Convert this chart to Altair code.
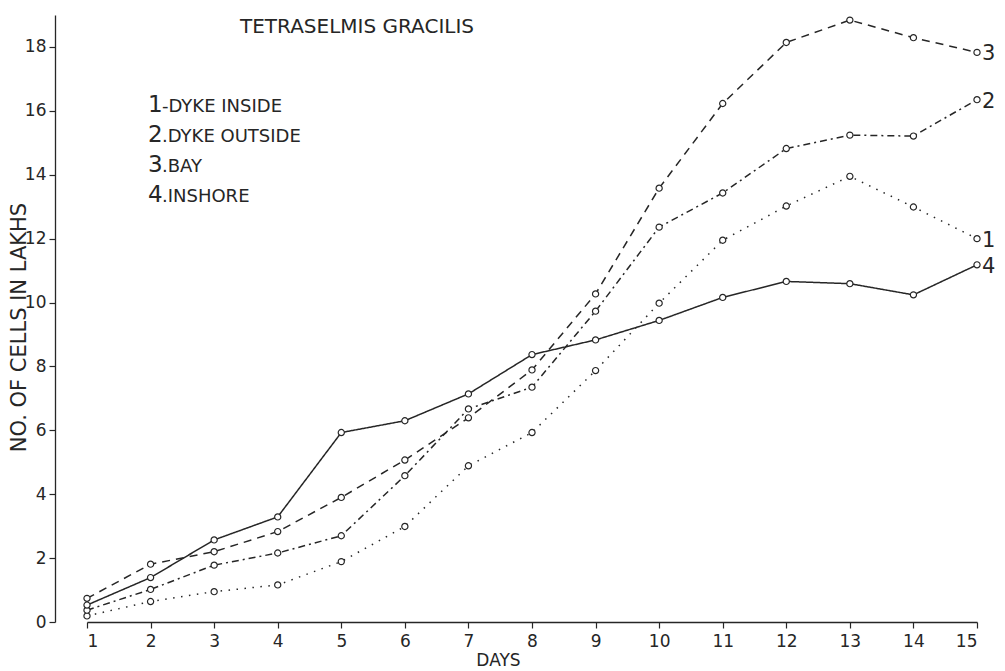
import altair as alt
import pandas as pd

# ---- data ----
days = list(range(1, 15 + 1))
series_names = ["DYKE INSIDE", "DYKE OUTSIDE", "BAY", "INSHORE"]
series_numbers = ["1", "2", "3", "4"]
series_separators = ["-", ".", ".", "."]
dyke_inside = [0.19, 0.64, 0.95, 1.16, 1.89, 2.99, 4.89, 5.93, 7.87, 9.98, 11.95, 13.02, 13.95, 12.99, 12.0]
dyke_outside = [0.37, 1.02, 1.78, 2.16, 2.70, 4.58, 6.67, 7.35, 9.73, 12.36, 13.43, 14.82, 15.24, 15.21, 16.35]
bay = [0.74, 1.81, 2.20, 2.83, 3.90, 5.07, 6.39, 7.89, 10.27, 13.58, 16.23, 18.14, 18.84, 18.29, 17.83]
inshore = [0.53, 1.39, 2.57, 3.29, 5.93, 6.30, 7.14, 8.37, 8.83, 9.44, 10.16, 10.66, 10.59, 10.24, 11.18]
y_ticks = list(range(0, 19))
title_text = "TETRASELMIS GRACILIS"
y_title = "NO. OF CELLS IN LAKHS"
x_title = "DAYS"

all_values = [dyke_inside, dyke_outside, bay, inshore]
rows = []
for num, name, vals in zip(series_numbers, series_names, all_values):
    for d, v in zip(days, vals):
        rows.append({"series": num, "name": name, "day": d, "value": v})
df = pd.DataFrame(rows)
end_df = df[df["day"] == days[-1]].copy()
legend_df = pd.DataFrame({
    "num": series_numbers,
    "rest": [s + n for s, n in zip(series_separators, series_names)],
})

INK = "#262626"
FONT = "DejaVu Sans"

x_scale = alt.Scale(domain=[1, 15], nice=False, zero=False)
y_scale = alt.Scale(domain=[0, 19], nice=False)

x_enc = alt.X("day:Q", scale=x_scale, axis=alt.Axis(
    values=days, format="d", tickSize=6, labelPadding=5, grid=False,
    labelFontSize=17, labelFont=FONT, labelColor=INK, domainColor=INK, tickColor=INK,
    domainWidth=1.3, tickWidth=1.2,
    title=x_title, titleFont=FONT, titleFontSize=17, titleFontWeight="normal",
    titleColor=INK, titleX=411, titleY=38, titleBaseline="middle", titleAnchor="middle"))
y_enc = alt.Y("value:Q", scale=y_scale, axis=alt.Axis(
    values=y_ticks, labelExpr="datum.value % 2 == 0 ? datum.label : ''",
    tickSize=6, labelPadding=3, grid=False, offset=32,
    labelFontSize=17, labelFont=FONT, labelColor=INK, domainColor=INK, tickColor=INK,
    domainWidth=1.3, tickWidth=1.2,
    title=y_title, titleFont=FONT, titleFontSize=21, titleFontWeight="normal",
    titleColor=INK, titleX=-36, titleY=312, titleBaseline="middle", titleAnchor="middle",
    titleAngle=270))

dash = alt.StrokeDash("series:N", scale=alt.Scale(
    domain=series_numbers, range=[[1.5, 6.5], [7, 4, 2, 4], [8, 6], [1, 0]]), legend=None)

base = alt.Chart(df)
lines = base.mark_line(color=INK, strokeWidth=1.5).encode(
    x=x_enc, y=y_enc, strokeDash=dash, detail="series:N")
points = base.mark_point(shape="circle", filled=True, fill="white", stroke=INK,
                         strokeWidth=1.2, size=38, opacity=1).encode(
    x=alt.X("day:Q", scale=x_scale), y=alt.Y("value:Q", scale=y_scale))
end_labels = alt.Chart(end_df).mark_text(
    align="left", baseline="middle", dx=5, dy=2, fontSize=21, font=FONT, color=INK).encode(
    x=alt.X("day:Q", scale=x_scale), y=alt.Y("value:Q", scale=y_scale), text="series:N")
title_mark = alt.Chart(pd.DataFrame({"t": [title_text]})).mark_text(
    align="left", baseline="alphabetic", fontSize=20, font=FONT, color=INK).encode(
    x=alt.value(153), y=alt.value(18), text="t:N")

main = alt.layer(lines, points, end_labels, title_mark)

leg_y = alt.Y("num:O", scale=alt.Scale(type="point", domain=series_numbers, range=[97, 187], padding=0), axis=None)
leg_nums = alt.Chart(legend_df).mark_text(
    align="left", baseline="alphabetic", fontSize=23, font=FONT, color=INK).encode(
    x=alt.value(61), y=leg_y, text="num:N")
leg_rest = alt.Chart(legend_df).mark_text(
    align="left", baseline="alphabetic", fontSize=18, font=FONT, color=INK).encode(
    x=alt.value(75), y=leg_y, text="rest:N")
legend = alt.layer(leg_nums, leg_rest)

chart = alt.layer(main, legend).resolve_scale(y="independent").properties(
    width=890, height=607,
    autosize=alt.AutoSizeParams(type="none"),
    padding={"left": 79, "top": 7, "right": 20, "bottom": 48},
    background="white",
).configure_view(stroke=None)

chart.save("out.html", embed_options={"renderer": "svg", "actions": False})
